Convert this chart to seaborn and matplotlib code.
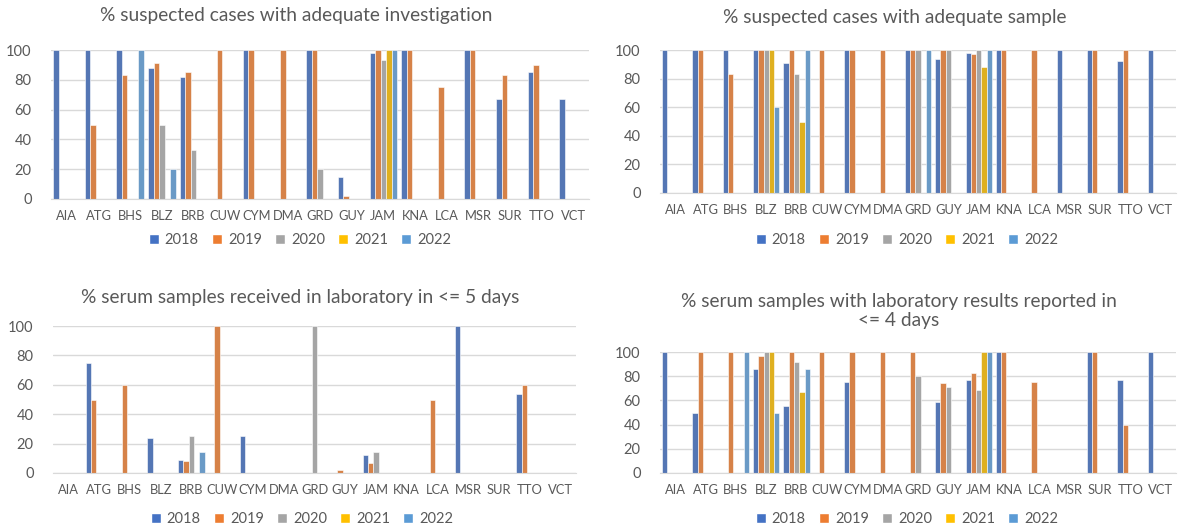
import numpy as np
import pandas as pd
import matplotlib
matplotlib.use("Agg")
import matplotlib.pyplot as plt
from matplotlib.patches import Patch
import seaborn as sns

N = np.nan

countries = ['AIA', 'ATG', 'BHS', 'BLZ', 'BRB', 'CUW', 'CYM', 'DMA', 'GRD',
             'GUY', 'JAM', 'KNA', 'LCA', 'MSR', 'SUR', 'TTO', 'VCT']
years = ['2018', '2019', '2020', '2021', '2022']
year_colors = ['#4472C4', '#ED7D31', '#A5A5A5', '#FFC000', '#5B9BD5']

# % suspected cases with adequate investigation (rows = years)
investigation = [
    [100, 100, 100, 88, 82, N, 100, N, 100, 15, 98, 100, N, 100, 67, 85, 67],
    [N, 50, 83, 91, 85, 100, 100, 100, 100, 2, 100, 100, 75, 100, 83, 90, N],
    [N, N, N, 50, 33, N, N, N, 20, N, 93, N, N, N, N, N, N],
    [N, N, N, N, N, N, N, N, N, N, 100, N, N, N, N, N, N],
    [N, N, 100, 20, N, N, N, N, N, N, 100, N, N, N, N, N, N],
]

# % suspected cases with adequate sample
sample = [
    [100, 100, 100, 100, 91, N, 100, N, 100, 94, 98, 100, N, 100, 100, 92, 100],
    [N, 100, 83, 100, 100, 100, 100, 100, 100, 100, 97, 100, 100, N, 100, 100, N],
    [N, N, N, 100, 83, N, N, N, 100, 100, 100, N, N, N, N, N, N],
    [N, N, N, 100, 50, N, N, N, N, N, 88, N, N, N, N, N, N],
    [N, N, N, 60, 100, N, N, N, 100, N, 100, N, N, N, N, N, N],
]

# % serum samples received in laboratory in <= 5 days
received = [
    [N, 75, N, 24, 9, N, 25, N, N, N, 12, N, N, 100, N, 54, N],
    [N, 50, 60, N, 8, 100, N, N, N, 2, 7, N, 50, N, N, 60, N],
    [N, N, N, N, 25, N, N, N, 100, N, 14, N, N, N, N, N, N],
    [N, N, N, N, N, N, N, N, N, N, N, N, N, N, N, N, N],
    [N, N, N, N, 14, N, N, N, N, N, N, N, N, N, N, N, N],
]

# % serum samples with laboratory results reported in <= 4 days
reported = [
    [100, 50, N, 86, 55, N, 75, N, N, 59, 77, 100, N, N, 100, 77, 100],
    [N, 100, 100, 97, 100, 100, 100, 100, 100, 74, 83, 100, 75, N, 100, 40, N],
    [N, N, N, 100, 92, N, N, N, 80, 71, 69, N, N, N, N, N, N],
    [N, N, N, 100, 67, N, N, N, N, N, 100, N, N, N, N, N, N],
    [N, N, 100, 50, 86, N, N, N, N, N, 100, N, N, N, N, N, N],
]

sns.set_style("white")
plt.rcParams['font.family'] = ['Lato', 'DejaVu Sans']
grey = '#595959'

W, H = 1178, 531
fig = plt.figure(figsize=(W / 100, H / 100), dpi=100)

# (values, title, axes box in px: left, top, right, bottom, title centre x, title y, legend x, legend y)
panels = [
    (investigation, '% suspected cases with adequate investigation',
     (51, 50, 589, 199), 296, 15, 300, 240),
    (sample, '% suspected cases with adequate sample',
     (660, 50, 1176, 193), 895, 18, 907, 240),
    (received, '% serum samples received in laboratory in <= 5 days',
     (53, 326, 576, 473), 300, 297, 302, 519),
    (reported, '% serum samples with laboratory results reported in\n<= 4 days',
     (660, 352, 1176, 473), 899, 311, 907, 519),
]

for values, title, box, tx, ty, lx, ly in panels:
    l, t, r, b = box
    ax = fig.add_axes([l / W, 1 - b / H, (r - l) / W, (b - t) / H])
    df = pd.DataFrame(values, index=years, columns=countries)
    df = df.reset_index().melt(id_vars='index', var_name='country', value_name='pct')
    df = df.rename(columns={'index': 'year'}).dropna()
    sns.barplot(data=df, x='country', y='pct', hue='year', order=countries,
                hue_order=years, palette=year_colors, errorbar=None,
                width=0.87, edgecolor='white', linewidth=0.4, ax=ax)
    ax.set_ylim(0, 100)
    ax.set_xlim(-0.5, len(countries) - 0.5)
    ax.set_yticks([0, 20, 40, 60, 80, 100])
    ax.yaxis.grid(True, color='#D9D9D9', linewidth=1)
    ax.set_axisbelow(True)
    for s in ['top', 'right', 'left']:
        ax.spines[s].set_visible(False)
    ax.spines['bottom'].set_color('#D9D9D9')
    ax.tick_params(axis='y', length=0, pad=14, labelsize=10.5, labelcolor=grey)
    ax.tick_params(axis='x', length=0, pad=8, labelsize=9.3, labelcolor=grey)
    ax.set_xlabel('')
    ax.set_ylabel('')
    ax.legend_.remove()
    fig.text(tx / W, 1 - ty / H, title, ha='center', va='center',
             fontsize=13.8, color=grey, linespacing=1.2)
    handles = [Patch(facecolor=c, label=y) for y, c in zip(years, year_colors)]
    fig.legend(handles=handles, loc='center', bbox_to_anchor=(lx / W, 1 - ly / H),
               ncol=5, frameon=False, fontsize=10.5, labelcolor=grey,
               handlelength=0.7, handleheight=0.7, handletextpad=0.4,
               columnspacing=0.9)

fig.savefig('out.png', dpi=100)
